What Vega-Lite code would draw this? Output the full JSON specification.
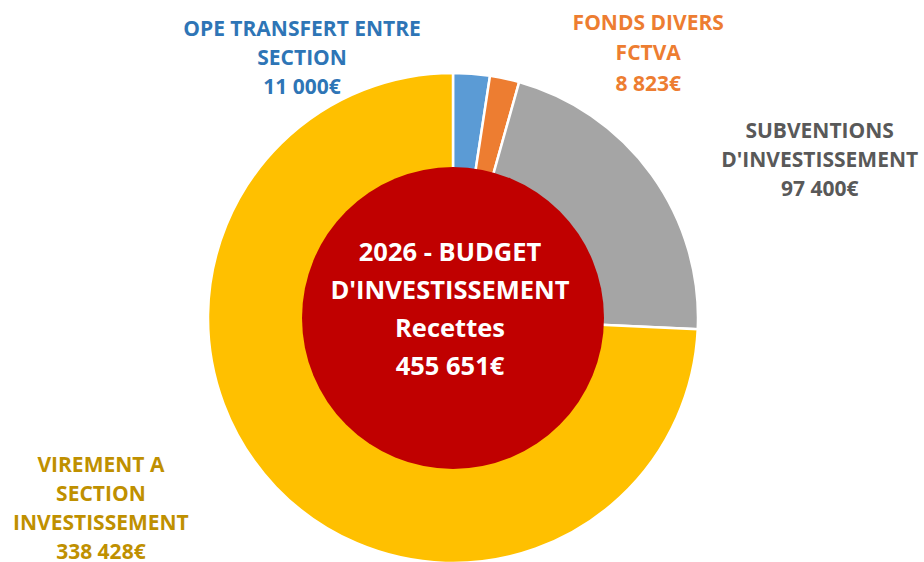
{
  "$schema": "https://vega.github.io/schema/vega-lite/v6.json",
  "width": 906,
  "height": 488,
  "autosize": "none",
  "padding": {"left": 0, "top": 74, "right": 18, "bottom": 0},
  "background": "white",
  "config": {"view": {"stroke": null}},
  "datasets": {
    "parts": [
      {"category": "OPE TRANSFERT ENTRE SECTION", "ord": 1, "value": 11000, "label": "OPE TRANSFERT ENTRE\nSECTION\n11 000€"},
      {"category": "FONDS DIVERS FCTVA", "ord": 2, "value": 8823, "label": "FONDS DIVERS\nFCTVA\n8 823€"},
      {"category": "SUBVENTIONS D'INVESTISSEMENT", "ord": 3, "value": 97400, "label": "SUBVENTIONS\nD'INVESTISSEMENT\n97 400€"},
      {"category": "VIREMENT A SECTION INVESTISSEMENT", "ord": 4, "value": 338428, "label": "VIREMENT A\nSECTION\nINVESTISSEMENT\n338 428€"}
    ],
    "total": [
      {"total": 455651, "title": "2026 - BUDGET\nD'INVESTISSEMENT\nRecettes\n455 651€"}
    ]
  },
  "layer": [
    {
      "data": {"name": "parts"},
      "mark": {"type": "arc", "outerRadius": 245, "innerRadius": 0, "stroke": "white", "strokeWidth": 2.5},
      "encoding": {
        "theta": {"field": "value", "type": "quantitative", "stack": true},
        "order": {"field": "ord", "type": "quantitative"},
        "color": {
          "field": "category",
          "type": "nominal",
          "scale": {
            "domain": ["OPE TRANSFERT ENTRE SECTION", "FONDS DIVERS FCTVA", "SUBVENTIONS D'INVESTISSEMENT", "VIREMENT A SECTION INVESTISSEMENT"],
            "range": ["#5B9BD5", "#ED7D31", "#A5A5A5", "#FFC000"]
          },
          "legend": null
        }
      }
    },
    {
      "data": {"name": "total"},
      "mark": {"type": "arc", "outerRadius": 151, "innerRadius": 0, "color": "#C00000"},
      "encoding": {
        "theta": {"field": "total", "type": "quantitative"}
      }
    },
    {
      "data": {"name": "total"},
      "mark": {"type": "text", "font": "Open Sans", "fontWeight": "bold", "fontSize": 25.5, "color": "white", "lineBreak": "\n", "lineHeight": 38, "align": "center", "baseline": "middle", "theta": -0.046, "radius": 65},
      "encoding": {"text": {"field": "title"}}
    },
    {
      "data": {"name": "parts"},
      "transform": [{"filter": "datum.ord == 1"}],
      "mark": {"type": "text", "font": "Open Sans", "fontWeight": "bold", "fontSize": 21, "color": "#2E75B6", "lineBreak": "\n", "lineHeight": 29, "align": "center", "baseline": "middle", "theta": -0.483, "radius": 325},
      "encoding": {"text": {"field": "label"}}
    },
    {
      "data": {"name": "parts"},
      "transform": [{"filter": "datum.ord == 2"}],
      "mark": {"type": "text", "font": "Open Sans", "fontWeight": "bold", "fontSize": 21, "color": "#ED7D31", "lineBreak": "\n", "lineHeight": 30.5, "align": "center", "baseline": "middle", "theta": 0.586, "radius": 353},
      "encoding": {"text": {"field": "label"}}
    },
    {
      "data": {"name": "parts"},
      "transform": [{"filter": "datum.ord == 3"}],
      "mark": {"type": "text", "font": "Open Sans", "fontWeight": "bold", "fontSize": 21, "color": "#595959", "lineBreak": "\n", "lineHeight": 29, "align": "center", "baseline": "middle", "theta": 1.102, "radius": 411},
      "encoding": {"text": {"field": "label"}}
    },
    {
      "data": {"name": "parts"},
      "transform": [{"filter": "datum.ord == 4"}],
      "mark": {"type": "text", "font": "Open Sans", "fontWeight": "bold", "fontSize": 21, "color": "#BF9000", "lineBreak": "\n", "lineHeight": 29, "align": "center", "baseline": "middle", "theta": -1.969, "radius": 382},
      "encoding": {"text": {"field": "label"}}
    }
  ]
}
